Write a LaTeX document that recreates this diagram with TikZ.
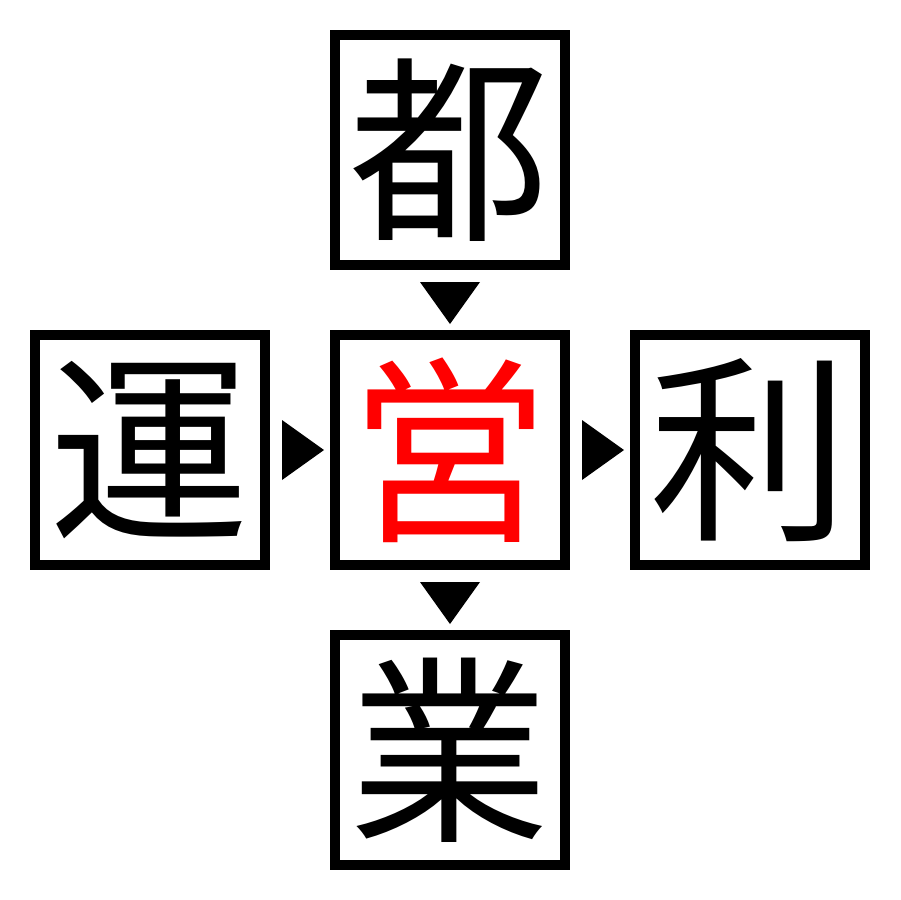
\documentclass[tikz,border=0pt]{standalone}
\usepackage{fontspec}
\newfontfamily\cjk{Noto Sans CJK JP}
\tikzset{
  charbox/.style={draw=black, line width=0.2cm, minimum size=4.6cm, inner sep=0pt,
    font=\cjk\fontsize{114}{114}\selectfont, text=black},
  tri/.style={fill=black, draw=none}
}
\begin{document}
\begin{tikzpicture}[x=0.02cm,y=-0.02cm]
\useasboundingbox (0,0) rectangle (900,900);
\node[charbox] (top) at (450,150) {都};
\node[charbox] (left) at (150,450) {運};
\node[charbox, text=red] (center) at (450,450) {営};
\node[charbox] (right) at (750,450) {利};
\node[charbox] (bottom) at (450,750) {業};
% down triangles
\fill[tri] (420,282) -- (480,282) -- (450,324) -- cycle;
\fill[tri] (420,582) -- (480,582) -- (450,624) -- cycle;
% right triangles
\fill[tri] (282,420) -- (282,480) -- (324,450) -- cycle;
\fill[tri] (582,420) -- (582,480) -- (624,450) -- cycle;
\end{tikzpicture}
\end{document}
